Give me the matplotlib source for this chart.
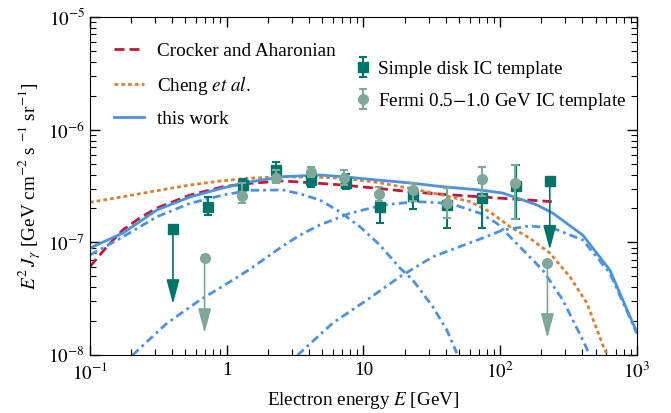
import matplotlib
matplotlib.use('Agg')
import matplotlib.pyplot as plt
import numpy as np

plt.rcParams['font.family'] = ['Liberation Serif', 'DejaVu Serif']
plt.rcParams['mathtext.fontset'] = 'stix'
plt.rcParams['font.size'] = 13.8

# ------------------------------------------------------------------
# model curves (energy in GeV, E^2 J in GeV cm^-2 s^-1 sr^-1)
E_total = [0.1, 0.174, 0.309, 0.539, 0.94, 1.48, 2.58, 4.81, 7.08, 12.6, 21.9,
           38.1, 71.1, 105, 186, 243, 403, 635, 1000]
F_total = [8.9e-8, 1.21e-7, 1.94e-7, 2.53e-7, 3.04e-7, 3.44e-7, 3.83e-7, 3.96e-7,
           3.83e-7, 3.58e-7, 3.37e-7, 3.12e-7, 2.92e-7, 2.74e-7, 2.15e-7, 1.82e-7,
           1.16e-7, 5.69e-8, 1.6e-8]

E_crocker = [0.1, 0.133, 0.174, 0.232, 0.309, 0.539, 0.94, 1.48, 2.58, 4.81, 7.08,
             12.6, 21.9, 38.1, 71.1, 105, 239]
F_crocker = [6.09e-8, 9.16e-8, 1.29e-7, 1.65e-7, 2.02e-7, 2.63e-7, 3.12e-7, 3.34e-7,
             3.51e-7, 3.34e-7, 3.23e-7, 3.02e-7, 2.82e-7, 2.67e-7, 2.54e-7, 2.46e-7,
             2.30e-7]

E_cheng = [0.1, 0.174, 0.309, 0.539, 0.94, 1.48, 2.58, 4.81, 7.08, 12.6, 21.9, 38.1,
           60.1, 84.1, 118, 165, 231, 324, 431, 564, 631]
F_cheng = [2.27e-7, 2.54e-7, 2.88e-7, 3.23e-7, 3.53e-7, 3.71e-7, 3.83e-7, 3.78e-7,
           3.71e-7, 3.41e-7, 3.02e-7, 2.63e-7, 2.30e-7, 1.87e-7, 1.38e-7, 1.09e-7,
           8.05e-8, 4.96e-8, 2.90e-8, 1.23e-8, 9.0e-9]

# components of this work
E_low = [0.1, 0.174, 0.309, 0.539, 0.94, 1.48, 2.58, 3.43, 4.81, 6.73, 9.42, 13.2,
         18.5, 23.0, 32.2, 40.8, 48.3]
F_low = [7.73e-8, 1.12e-7, 1.69e-7, 2.22e-7, 2.63e-7, 2.90e-7, 2.92e-7, 2.70e-7,
         2.38e-7, 1.87e-7, 1.38e-7, 9.48e-8, 5.93e-8, 4.64e-8, 2.69e-8, 1.67e-8,
         1.04e-8]

E_mid = [0.205, 0.364, 0.637, 1.11, 1.48, 2.58, 3.43, 4.81, 7.96, 13.9, 24.6, 43.0,
         71.1, 94.6, 147, 205, 288, 403, 453]
F_mid = [1.0e-8, 1.91e-8, 3.08e-8, 4.64e-8, 5.8e-8, 9.3e-8, 1.16e-7, 1.43e-7,
         1.81e-7, 2.15e-7, 2.30e-7, 2.22e-7, 1.82e-7, 1.48e-7, 8.57e-8, 5.69e-8,
         3.08e-8, 1.36e-8, 1.0e-8]

E_high = [3.30, 5.98, 10.6, 18.5, 32.2, 71.1, 105, 165, 243, 403, 635, 1000]
F_high = [1.0e-8, 1.93e-8, 3.08e-8, 4.96e-8, 7.46e-8, 1.07e-7, 1.29e-7, 1.40e-7,
          1.34e-7, 1.05e-7, 5.35e-8, 1.57e-8]

# ------------------------------------------------------------------
# data: simple disk IC template
E_disk = [0.73, 1.31, 2.29, 4.13, 7.45, 13.2, 23.0, 40.8, 73.5, 130]
F_disk = [2.07e-7, 3.20e-7, 4.39e-7, 3.58e-7, 3.39e-7, 2.07e-7, 2.60e-7, 2.15e-7,
          2.46e-7, 3.16e-7]
F_disk_hi = [2.53e-7, 3.65e-7, 5.17e-7, 4.13e-7, 4.04e-7, 2.80e-7, 3.37e-7, 3.04e-7,
             3.37e-7, 4.86e-7]
F_disk_lo = [1.75e-7, 2.63e-7, 3.88e-7, 3.10e-7, 2.98e-7, 1.50e-7, 1.98e-7, 1.35e-7,
             1.34e-7, 1.61e-7]
E_disk_ul = [0.405, 231]
F_disk_ul = [1.315e-7, 3.51e-7]
F_disk_ul_tip = [2.84e-8, 8.6e-8]

# data: Fermi 0.5-1.0 GeV IC template
E_fermi = [1.29, 2.29, 4.13, 7.2, 13.0, 23.0, 40.8, 73.5, 128]
F_fermi = [2.58e-7, 3.75e-7, 4.24e-7, 3.73e-7, 2.69e-7, 2.92e-7, 2.22e-7, 3.63e-7,
           3.34e-7]
F_fermi_hi = [3.37e-7, 4.39e-7, 4.70e-7, 4.39e-7, 3.12e-7, 3.37e-7, 3.04e-7, 4.70e-7,
              4.86e-7]
F_fermi_lo = [2.24e-7, 3.37e-7, 3.80e-7, 3.23e-7, 2.33e-7, 2.33e-7, 1.65e-7, 2.58e-7,
              1.61e-7]
E_fermi_ul = [0.69, 222]
F_fermi_ul = [7.32e-8, 6.53e-8]
F_fermi_ul_tip = [1.57e-8, 1.42e-8]

# ------------------------------------------------------------------
c_red = '#c8153a'
c_orange = '#d9812f'
c_blue = '#4a93e0'
c_disk = '#00766a'
c_fermi = '#7fa79a'

fig = plt.figure(figsize=(6.71, 4.13), dpi=100)
ax = fig.add_axes([0.134, 0.140, 0.815, 0.819])

lw = 2.0
l1, = ax.plot(E_crocker, F_crocker, color=c_red, lw=lw, dashes=[3.6, 1.8],
              label='Crocker and Aharonian')
l2, = ax.plot(E_cheng, F_cheng, color=c_orange, lw=lw, dashes=[1.35, 1.1],
              label='Cheng $\\it{et\\ al.}$')
l3, = ax.plot(E_total, F_total, color=c_blue, lw=lw, label='this work')
for E, F in [(E_low, F_low), (E_mid, F_mid), (E_high, F_high)]:
    ax.plot(E, F, color=c_blue, lw=lw, dashes=[3.0, 1.5, 1.0, 1.5])

d_disk = np.array(F_disk)
e1 = ax.errorbar(E_disk, F_disk,
                 yerr=[d_disk - np.array(F_disk_lo), np.array(F_disk_hi) - d_disk],
                 fmt='s', color=c_disk, ms=6.5, capsize=3, elinewidth=1.5,
                 capthick=1.5, label='Simple disk IC template', zorder=5)
d_fermi = np.array(F_fermi)
e2 = ax.errorbar(E_fermi, F_fermi,
                 yerr=[d_fermi - np.array(F_fermi_lo), np.array(F_fermi_hi) - d_fermi],
                 fmt='o', color=c_fermi, ms=7, capsize=3, elinewidth=1.5,
                 capthick=1.5, label='Fermi 0.5$-$1.0 GeV IC template', zorder=6)

# upper limits
for E, F, Ft, c, m in [(E_disk_ul, F_disk_ul, F_disk_ul_tip, c_disk, 's'),
                       (E_fermi_ul, F_fermi_ul, F_fermi_ul_tip, c_fermi, 'o')]:
    ax.plot(E, F, m, color=c, ms=6.5 if m == 's' else 7, zorder=6)
    for x, y0, y1 in zip(E, F, Ft):
        ax.annotate('', xy=(x, y1), xytext=(x, y0),
                    arrowprops=dict(arrowstyle='-|>,head_width=0.2,head_length=0.75',
                                    mutation_scale=20, color=c, lw=1.2,
                                    shrinkA=0, shrinkB=0), zorder=4)

ax.set_xscale('log')
ax.set_yscale('log')
ax.set_xlim(0.1, 1000)
ax.set_ylim(1e-8, 1e-5)
ax.set_xticks([0.1, 1, 10, 100, 1000],
              labels=['$10^{-1}$', '1', '10', '$10^{2}$', '$10^{3}$'])
ax.set_yticks([1e-8, 1e-7, 1e-6, 1e-5],
              labels=['$10^{-8}$', '$10^{-7}$', '$10^{-6}$', '$10^{-5}$'])
ax.tick_params(which='both', direction='in', top=True, right=True, labelsize=13.8)
ax.tick_params(which='major', length=7.5, width=1)
ax.tick_params(which='minor', length=4.5, width=0.8)
ax.tick_params(axis='x', pad=5)

ax.set_xlabel('Electron energy $E$ [GeV]', fontsize=13.8, labelpad=5)
ax.set_ylabel('$E^2\\,J_\\gamma$ [GeV cm$^{-2}$ s $^{-1}$ sr$^{-1}$]', fontsize=13.8)

leg1 = ax.legend(handles=[l1, l2, l3], loc='upper left', bbox_to_anchor=(0.012, 0.976),
                 frameon=False, fontsize=13.8, labelspacing=0.73, handlelength=1.56,
                 handletextpad=0.7)
ax.add_artist(leg1)
ax.legend(handles=[e1, e2], loc='upper left', bbox_to_anchor=(0.45, 0.923),
          frameon=False, fontsize=13.8, labelspacing=0.68, handlelength=1.0,
          handletextpad=0.28)

fig.savefig('out.png', dpi=100)
